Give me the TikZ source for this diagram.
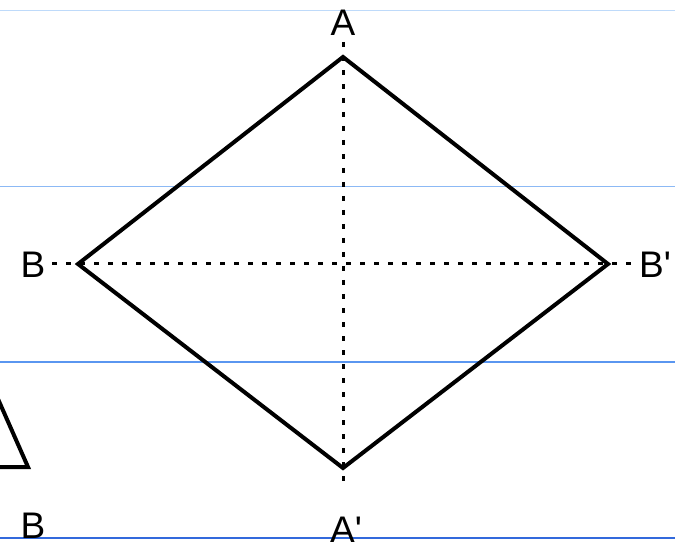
\documentclass[tikz,border=0pt]{standalone}
\usepackage{fontspec}
\newfontfamily\labfont{Liberation Sans}
\definecolor{rule1}{RGB}{190,218,250}
\definecolor{rule2}{RGB}{140,185,245}
\definecolor{rule3}{RGB}{90,150,240}
\definecolor{rule4}{RGB}{50,105,220}
\begin{document}
\begin{tikzpicture}[x=1pt,y=-1pt,
  ruleline/.style={line width=1.2pt},
  edge/.style={line width=4pt, line join=miter},
  axisline/.style={line width=3pt, dash pattern=on 5pt off 9pt},
  lbl/.style={font=\labfont\fontsize{37}{37}\selectfont, inner sep=0pt, anchor=base}]
\useasboundingbox (0,0) rectangle (675,556);
\fill[white] (0,0) rectangle (675,556);
% ruled lines
\draw[ruleline, rule1] (0,10.5) -- (675,10.5);
\draw[ruleline, rule2] (0,186.5) -- (675,186.5);
\draw[ruleline, rule3] (0,362) -- (675,362);
\draw[line width=1.8pt, rule4] (0,538) -- (675,538);
% vertices
\coordinate (A) at (343,57);
\coordinate (B) at (78,264);
\coordinate (Bp) at (608,264);
\coordinate (Ap) at (343,468);
\coordinate (vtop) at (343,42);
\coordinate (vbot) at (343,486);
\coordinate (hleft) at (52,264);
\coordinate (hright) at (636,264);
% axes
\draw[axisline] (vtop) -- (vbot);
\draw[axisline] (hleft) -- (hright);
% diamond
\draw[edge] (A) -- (Bp) -- (Ap) -- (B) -- cycle;
% partial triangle at left
\coordinate (t1) at (-2,399);
\coordinate (t2) at (28,467);
\coordinate (t3) at (-2,467);
\draw[edge] (t1) -- (t2) -- (t3);
% labels
\node[lbl] (lA) at (343,36) {A};
\node[lbl] (lB) at (33,278) {B};
\node[lbl, anchor=base west] (lBp) at (639,278) {B'};
\node[lbl] (lAp) at (346,542) {A'};
\node[lbl] (lB2) at (33,538) {B};
\end{tikzpicture}
\end{document}
